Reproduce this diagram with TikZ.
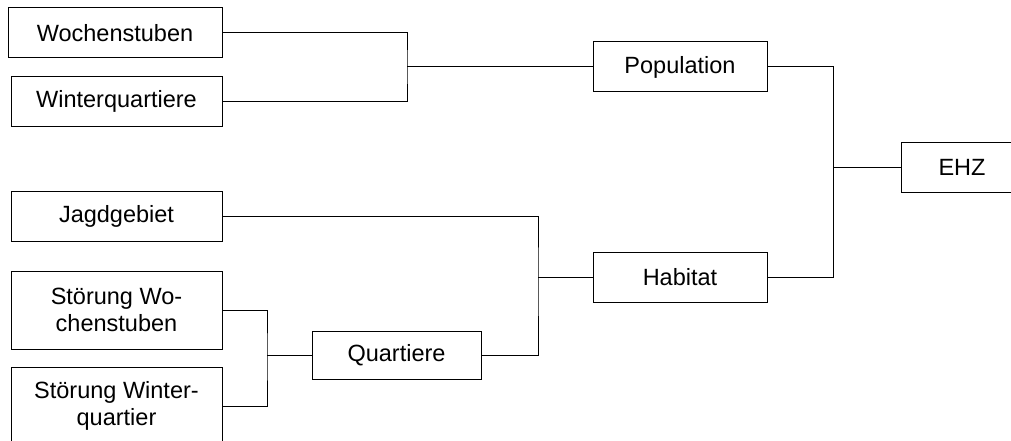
\documentclass[tikz,border=0pt]{standalone}
\usepackage{fontspec}
\setmainfont{Liberation Sans}
\usepackage{xcolor}

\tikzset{
  kasten/.style={draw, line width=1pt, minimum height=50pt, inner sep=2pt, align=center, font=\fontsize{23.5}{27}\selectfont},
  links/.style={kasten, minimum width=211pt},
  mitte/.style={kasten, minimum width=174pt},
  linie/.style={line width=1pt}
}

\begin{document}
\begin{tikzpicture}[x=1pt,y=-1pt]
    \useasboundingbox (0,0) rectangle (1011,441);
    \node[links,minimum width=214pt] (woch) at (115,33) {Wochenstuben};
    \node[links] (wint) at (116.5,101.5) {Winterquartiere};
    \node[links] (jagd) at (116.5,216) {Jagdgebiet};
    \node[links,minimum height=78pt] (stwo) at (116.5,310) {Störung Wo-\\chenstuben};
    \node[links,minimum height=78pt] (stwi) at (116.5,406) {Störung Winter-\\quartier};
    \node[mitte] (pop) at (680,67) {Population};
    \node[mitte] (hab) at (680,277.5) {Habitat};
    \node[kasten,minimum width=169pt,minimum height=48pt] (quar) at (396.5,355.5) {Quartiere};
    \node[kasten,minimum width=122pt] (ehz) at (962,167) {EHZ};
    \coordinate (jpop) at (407,67);
    \coordinate (jquar) at (267,355.5);
    \coordinate (jhab) at (538,277.5);
    \coordinate (jehz) at (833,167);
    \draw[linie] (woch.east) -| (jpop) |- (wint.east);
    \draw[linie] (jpop) -- (pop.west);
    \draw[linie] (stwo.east) -| (jquar) |- (stwi.east);
    \draw[linie] (jquar) -- (quar.west);
    \draw[linie] (jagd.east) -| (jhab) |- (quar.east);
    \draw[linie] (jhab) -- (hab.west);
    \draw[linie] (pop.east) -| (jehz) |- (hab.east);
    \draw[linie] (jehz) -- (ehz.west);
\end{tikzpicture}
\end{document}
